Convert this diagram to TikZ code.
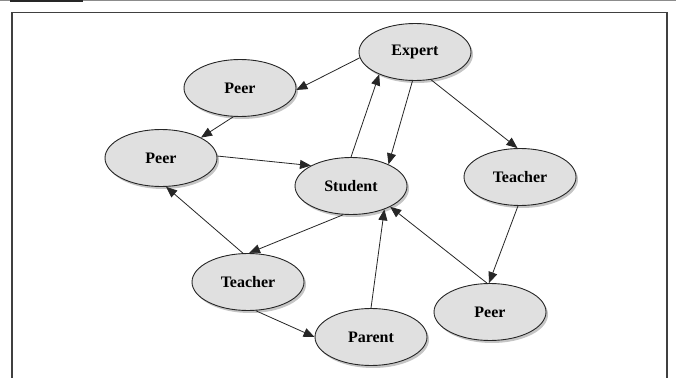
\documentclass[tikz,border=0pt]{standalone}
\usepackage{fontspec}
\setmainfont{Liberation Serif}
\usetikzlibrary{arrows.meta,shadows,shapes.geometric}
\tikzset{
  bubble/.style={ellipse, draw=black!85, line width=0.9pt, fill=black!12,
    minimum width=112pt, minimum height=57pt, inner sep=0pt,
    font=\fontsize{16}{19}\selectfont\bfseries,
    drop shadow={shadow xshift=2pt, shadow yshift=-2.5pt, fill=black!45}},
  link/.style={draw=black!85, line width=0.8pt, -{Triangle[length=11pt,width=9pt]}}
}
\begin{document}
\begin{tikzpicture}[x=1pt,y=-1pt]
\useasboundingbox (0,0) rectangle (676,377);
\fill[white] (0,0) rectangle (676,377);
% top rule
\draw[black!45, line width=1pt] (0,0.5) -- (676,0.5);
\draw[black!85, line width=1.6pt] (10,0.8) -- (83,0.8);
% frame
\draw[black!75, line width=1.4pt] (12,390) -- (12,12.5) -- (667,12.5) -- (667,390);
% nodes
\node[bubble] (ex) at (415,52) {Expert};
\node[bubble] (pt) at (240,88) {Peer};
\node[bubble] (pl) at (161,158) {Peer};
\node[bubble] (st) at (351,186) {Student};
\node[bubble] (tr) at (520,177) {Teacher};
\node[bubble] (tl) at (248,282) {Teacher};
\node[bubble] (pa) at (371,337) {Parent};
\node[bubble] (pb) at (490,312) {Peer};
% connectors
\draw[link] (ex.186) -- (pt.358);
\draw[link] (pt.257) -- (pl.27);
\draw[link] (pl.2) -- (st.153);
\draw[link] (st.90) -- (ex.212);
\draw[link] (ex.265) -- (st.30);
\draw[link] (ex.300) -- (tr.95);
\draw[link] (tr.266) -- (pb.92);
\draw[link] (pb.96) -- (st.-28);
\draw[link] (pa.90) -- (st.-35);
\draw[link] (st.255) -- (tl.88);
\draw[link] (tl.100) -- (pl.280);
\draw[link] (tl.285) -- (pa.180);
\end{tikzpicture}
\end{document}
